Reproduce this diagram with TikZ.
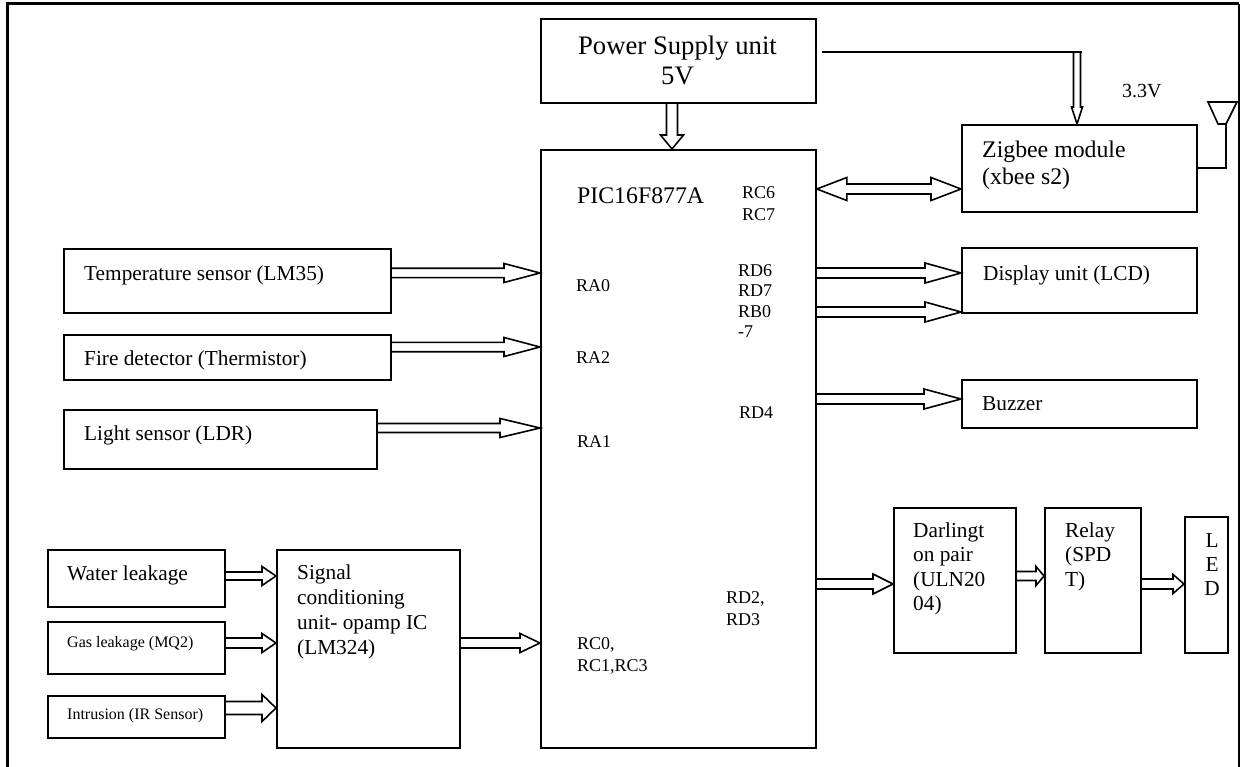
\documentclass[tikz,border=0pt]{standalone}
\usepackage{fontspec}
\setmainfont{Liberation Serif}
\usetikzlibrary{calc}
% hollow block arrow: start, end, shaft half width, head half width, head length
\newcommand\blockarrow[5]{%
	\coordinate (ba s) at #1;
	\coordinate (ba e) at #2;
	\coordinate (ba h) at ($(ba e)!#5pt!(ba s)$);
	\draw[arrowline] ($(ba s)!#3pt!90:(ba e)$) -- ($(ba h)!#3pt!-90:(ba s)$) -- ($(ba h)!#4pt!-90:(ba s)$) -- (ba e)
		-- ($(ba h)!#4pt!90:(ba s)$) -- ($(ba h)!#3pt!90:(ba s)$) -- ($(ba s)!#3pt!-90:(ba e)$);
}
% hollow arrow with two heads
\newcommand\dblarrow[5]{%
	\coordinate (da a) at #1;
	\coordinate (da b) at #2;
	\coordinate (da ha) at ($(da a)!#5pt!(da b)$);
	\coordinate (da hb) at ($(da b)!#5pt!(da a)$);
	\draw[arrowline] (da a) -- ($(da ha)!#4pt!90:(da b)$) -- ($(da ha)!#3pt!90:(da b)$) -- ($(da hb)!#3pt!-90:(da a)$)
		-- ($(da hb)!#4pt!-90:(da a)$) -- (da b) -- ($(da hb)!#4pt!90:(da a)$) -- ($(da hb)!#3pt!90:(da a)$)
		-- ($(da ha)!#3pt!-90:(da b)$) -- ($(da ha)!#4pt!-90:(da b)$) -- cycle;
}
% box: name, x1, y1, x2, y2
\newcommand\bx[5]{\node[box, minimum width=#4-#2, minimum height=#5-#3] (#1) at (#2,#3) {};}
\tikzset{
	box/.style={draw, line width=1.8pt, inner sep=0pt, anchor=north west},
	txt/.style={anchor=base west, inner sep=0pt, align=left, font=\fontsize{21.3}{24.5}\selectfont},
	pin/.style={txt, font=\fontsize{18}{22}\selectfont},
	small/.style={txt, font=\fontsize{16}{19}\selectfont},
	arrowline/.style={line width=1.6pt, line join=miter},
	frame/.style={line width=3pt}
}

\begin{document}
\begin{tikzpicture}[x=1pt,y=-1pt]
\useasboundingbox (0,0) rectangle (1242,767);
\draw[frame] (7,767) -- (7,4) -- (1239,4);
\draw[frame, line width=2pt] (1239,4) -- (1239,767);

% blocks
\bx{psu}{540}{18}{815}{102}
\bx{pic}{540}{149}{815}{747}
\bx{zig}{961}{124}{1196}{211}
\bx{temp}{63}{248}{390}{312}
\bx{fire}{63}{334}{390}{379}
\bx{light}{63}{409}{376}{468}
\bx{water}{47}{549}{224}{606}
\bx{gas}{47}{621}{224}{673}
\bx{intr}{47}{695}{224}{737}
\bx{sig}{276}{549}{459}{747}
\bx{disp}{961}{247}{1196}{312}
\bx{buzz}{961}{379}{1196}{427}
\bx{dar}{893}{507}{1015}{652}
\bx{relay}{1044}{507}{1140}{652}
\bx{led}{1184}{516}{1227}{652}

% texts (multi-line: placed at the last baseline)
\node[txt, anchor=base, align=center, font=\fontsize{26.7}{30}\selectfont] (psu-t) at (677.5,85) {Power Supply unit\\5V};
\node[txt, font=\fontsize{23.8}{27}\selectfont] (pic-t) at (577,204) {PIC16F877A};
\node[txt, font=\fontsize{23.8}{27}\selectfont] (zig-t) at (982,185) {Zigbee module\\(xbee s2)};
\node[txt, font=\fontsize{20}{24}\selectfont] (volt) at (1122,98) {3.3V};
\node[txt] (temp-t) at (84,280) {Temperature sensor (LM35)};
\node[txt] (fire-t) at (84,365) {Fire detector (Thermistor)};
\node[txt] (light-t) at (84,440) {Light sensor (LDR)};
\node[txt] (water-t) at (67,580) {Water leakage};
\node[small] (gas-t) at (67,647) {Gas leakage (MQ2)};
\node[small] (intr-t) at (67,719) {Intrusion (IR Sensor)};
\node[txt, font=\fontsize{21.3}{25}\selectfont] (sig-t) at (297,654) {Signal\\conditioning\\unit- opamp IC\\(LM324)};
\node[txt] (disp-t) at (983,280) {Display unit (LCD)};
\node[txt] (buzz-t) at (982,410) {Buzzer};
\node[txt] (dar-t) at (913,610.5) {Darlingt\\on pair\\(ULN20\\04)};
\node[txt] (relay-t) at (1065,586) {Relay\\(SPD\\T)};
\node[txt, anchor=base, align=center, font=\fontsize{21.3}{24}\selectfont] (led-t) at (1212,595) {L\\E\\D};

% pin labels
\node[pin] (rc67) at (742,221) {RC6\\RC7};
\node[pin] (ra0) at (576,292) {RA0};
\node[pin] (ra2) at (576,363) {RA2};
\node[pin] (ra1) at (577,447) {RA1};
\node[pin, font=\fontsize{18}{20}\selectfont] (rd67) at (738,337) {RD6\\RD7\\RB0\\-7};
\node[pin] (rd4) at (739,418) {RD4};
\node[pin] (rd23) at (726,625) {RD2,\\RD3};
\node[pin] (rc013) at (577,671) {RC0,\\RC1,RC3};

% power lines
\coordinate (tap) at (1077,52);
\draw[arrowline] ([xshift=5pt]psu.east |- tap) -- ([xshift=5pt]tap);
\blockarrow{(tap)}{(zig.north -| tap)}{3.5}{5.5}{17}
\blockarrow{(psu.south -| 672,0)}{(pic.north -| 672,0)}{5.5}{11.5}{14}

% antenna
\coordinate (ant) at (1226,124);
\draw[arrowline] (1208,102) -- (1237,102) -- (ant) -- (1218,124) -- cycle;
\draw[arrowline] (ant) -- (ant |- 0,168) -- (zig.east |- 0,168);

% signal arrows
\dblarrow{(pic.east |- 0,189)}{(zig.west |- 0,189)}{5}{11.5}{30}
\blockarrow{(temp.east |- 0,273)}{(pic.west |- 0,273)}{4.7}{9.5}{36}
\blockarrow{(fire.east |- 0,347)}{(pic.west |- 0,347)}{4.7}{9.5}{36}
\blockarrow{(light.east |- 0,428)}{(pic.west |- 0,428)}{4.5}{9.5}{40}
\blockarrow{(water.east |- 0,576)}{(sig.west |- 0,576)}{4}{9.5}{14}
\blockarrow{(gas.east |- 0,643)}{(sig.west |- 0,643)}{5}{9.5}{14}
\blockarrow{(intr.east |- 0,708)}{(sig.west |- 0,708)}{6.5}{13.5}{14}
\blockarrow{(sig.east |- 0,643)}{(pic.west |- 0,643)}{5}{9.5}{20}
\blockarrow{(pic.east |- 0,273)}{(disp.west |- 0,273)}{5}{10}{36}
\blockarrow{(pic.east |- 0,312)}{(disp.west |- 0,312)}{5}{10}{36}
\blockarrow{(pic.east |- 0,399)}{(buzz.west |- 0,399)}{5}{10}{37}
\blockarrow{(pic.east |- 0,584)}{(dar.west |- 0,584)}{5}{10}{20}
\blockarrow{(dar.east |- 0,576)}{(relay.west |- 0,576)}{4.5}{9.5}{8}
\blockarrow{(relay.east |- 0,584)}{(led.west |- 0,584)}{5}{9.5}{11}
\end{tikzpicture}
\end{document}
